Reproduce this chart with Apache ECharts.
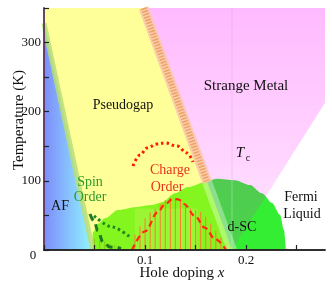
<!DOCTYPE html>
<html><head><meta charset="utf-8">
<script src="https://cdn.jsdelivr.net/npm/echarts@6/dist/echarts.min.js"></script>
<style>html,body{margin:0;padding:0;background:#fff}#c{width:332px;height:285px}</style>
</head><body><div id="c"></div>
<script>
// ---- data (doping x, temperature K) ----
const afBoundary = [[0, 328], [0.0482, 0]];
const pseudogapLine = [[0.0986, 350], [0.186, 0]];
const pseudogapDomeCross = [0.1615, 98];
const fermiLiquidLine = [[0.278, 213], [0.186, 0]];
const criticalDoping = 0.186;
const scDome = [[0.0475,0],[0.0485,26],[0.0534,38],[0.0603,46],[0.0732,58],[0.0900,62],[0.1068,65],[0.1167,69],[0.1296,82],[0.1425,91],[0.1593,98],[0.1711,103],[0.1889,101],[0.2038,94],[0.2157,82],[0.2256,68],[0.2335,51],[0.2374,29],[0.2394,0]];
const chargeOnset = [[0.0880,121.5],[0.0950,137.4],[0.1019,147.5],[0.1118,153.3],[0.1197,154.8],[0.1316,150.4],[0.1415,140.3],[0.1474,127.3]];
const chargeDome = [[0.0871,0],[0.0999,27],[0.1128,55],[0.1197,66.5],[0.1276,74],[0.1336,73],[0.1385,66.5],[0.1494,49],[0.1593,32],[0.1692,16],[0.1801,0]];
const chargeHatch = [[0.090,22],[0.095,34],[0.100,46],[0.105,54],[0.110,60],[0.115,66],[0.120,72],[0.125,75],[0.130,75],[0.135,72],[0.140,64],[0.145,60],[0.150,58],[0.155,55],[0.160,48],[0.165,38],[0.170,28],[0.175,18],[0.180,8]];
const chargeBox = [[0.090,0],[0.152,60]];
const spinDotted = [[0.0495,49.2],[0.0673,33.3],[0.0851,18.8]];
const spinDashed = [[0.0455,52],[0.0495,42],[0.0534,27.5],[0.0584,11.6],[0.0653,4.3],[0.0762,2.2]];
const spinHatch = [[0.050,16],[0.055,14],[0.060,12],[0.065,9],[0.070,7]];
const xTickValues = [0.1, 0.2];
const xTickLabels = ['0.1', '0.2'];
const yTickValues = [100, 200, 300];
const yTickLabels = ['100', '200', '300'];

const SERIF = "'Liberation Serif','DejaVu Serif',serif";
const yellowPoly = [[0,350],[afBoundary[0][0],afBoundary[0][1]],afBoundary[1],pseudogapLine[1],pseudogapLine[0]];
const pinkPoly = [pseudogapLine[0],[0.278,350],fermiLiquidLine[0],fermiLiquidLine[1],pseudogapLine[1]];
const afPoly = [[0,0],afBoundary[0],afBoundary[1]];

function polySeries(points, fill, z) {
  return {type:'custom', z:z, silent:true, data:[[0,0]], clip:false,
    renderItem:(p, api)=>({type:'polygon', shape:{points:points.map(q=>api.coord(q))}, style:{fill:fill}})};
}
function vlines(data, stroke, w, z) {
  return {type:'custom', z:z, silent:true, data:data,
    renderItem:(p, api)=>{const a=api.coord([api.value(0),0]), b=api.coord([api.value(0),api.value(1)]);
      return {type:'line', shape:{x1:a[0],y1:a[1],x2:b[0],y2:b[1]}, style:{stroke:stroke,lineWidth:w}};}};
}
function lineS(data, color, width, type, z, smooth) {
  return {type:'line', data:data, z:z, silent:true, showSymbol:false, smooth:smooth||0, smoothMonotone:'x',
    lineStyle:{color:color, width:width, type:type, cap:'butt'}, animation:false};
}

const chart = echarts.init(document.getElementById('c'), null, {renderer:'canvas'});
const axisFmt = (vals, labs) => v => { for (let i=0;i<vals.length;i++) if (Math.abs(v-vals[i])<1e-6) return labs[i]; return ''; };

chart.setOption({
  animation:false,
  backgroundColor:'#fff',
  grid:{left:44, right:7, top:8, bottom:35, containLabel:false, outerBoundsMode:'none'},
  xAxis:[
    {type:'value', min:0, max:0.278, interval:0.05, position:'bottom', z:10,
     axisLine:{lineStyle:{color:'#222', width:1.5}}, axisTick:{inside:true, length:5, lineStyle:{color:'#222', width:1.2}},
     axisLabel:{formatter:axisFmt(xTickValues, xTickLabels), fontFamily:SERIF, fontSize:13, color:'#111', margin:4, showMaxLabel:false},
     splitLine:{show:false}},
    {type:'value', min:0, max:0.278, position:'top', z:10,
     axisLine:{show:true, lineStyle:{color:'#222', width:1.5}}, axisTick:{show:false}, axisLabel:{show:false}, splitLine:{show:false}}
  ],
  yAxis:[
    {type:'value', min:0, max:350, interval:50, position:'left', z:10,
     axisLine:{show:true, lineStyle:{color:'#222', width:1.5}}, axisTick:{show:true, inside:true, length:5, lineStyle:{color:'#222', width:1.2}},
     axisLabel:{formatter:axisFmt(yTickValues, yTickLabels), fontFamily:SERIF, fontSize:13, color:'#111', margin:3},
     splitLine:{show:false}},
    {type:'value', min:0, max:350, position:'right', z:10,
     axisLine:{show:true, lineStyle:{color:'#6e3f6e', width:1.5}}, axisTick:{show:false}, axisLabel:{show:false}, splitLine:{show:false}}
  ],
  series:[
    {type:'line', data:scDome, z:1, silent:true, showSymbol:false, smooth:0.3, smoothMonotone:'x',
     lineStyle:{width:0}, areaStyle:{color:'#33ee33', opacity:1}},
    polySeries([[chargeBox[0][0],chargeBox[0][1]],[chargeBox[1][0],chargeBox[0][1]],[chargeBox[1][0],chargeBox[1][1]],[chargeBox[0][0],chargeBox[1][1]]], 'rgba(255,255,255,0.18)', 1),
    vlines(spinHatch, 'rgba(70,110,20,0.6)', 1, 1),
    polySeries(yellowPoly, 'rgba(255,255,0,0.4)', 2),
    polySeries(pinkPoly, new echarts.graphic.LinearGradient(0,0,0,1,[{offset:0,color:'rgba(255,0,255,0.27)'},{offset:1,color:'rgba(255,0,255,0.10)'}]), 2),
    {type:'custom', z:3, silent:true, data:[[0,0]],
     renderItem:(p, api)=>{const a=api.coord([criticalDoping,0]), m=api.coord([criticalDoping,101]), b=api.coord([criticalDoping,350]);
       return {type:'group', children:[
         {type:'line', shape:{x1:m[0],y1:m[1],x2:b[0],y2:b[1]}, style:{stroke:'rgba(225,150,225,0.35)', lineWidth:1}},
         {type:'line', shape:{x1:a[0],y1:a[1],x2:m[0],y2:m[1]}, style:{stroke:'rgba(255,255,255,0.3)', lineWidth:1}}]};}},
    vlines(chargeHatch, '#ff7a30', 1, 3),
    polySeries(afPoly, new echarts.graphic.LinearGradient(0,0,1,0,[{offset:0,color:'#7d8cfb'},{offset:1,color:'#90f6ff'}]), 4),
    lineS(afBoundary, 'rgba(185,222,120,0.85)', 5, 'solid', 4),
    lineS([pseudogapLine[0], pseudogapDomeCross], 'rgba(250,200,175,0.9)', 10, 'solid', 4),
    lineS([pseudogapLine[0], pseudogapDomeCross], '#eda35e', 6, [1.5,1.5], 4),
    lineS([pseudogapDomeCross, pseudogapLine[1]], 'rgba(255,255,255,0.35)', 10, 'solid', 4),
    lineS(chargeDome, '#ff2a0a', 2.2, [6,4], 5, 0.35),
    lineS(chargeOnset, '#ff1a00', 3, [2.5,3], 5, 0.4),
    lineS(spinDotted, '#1e8a1e', 3, [2.5,3], 5, 0.3),
    lineS(spinDashed, '#1e7a1e', 3, [7,5], 5, 0.4)
  ],
  graphic:{elements:[
    {type:'text', x:123, y:105, z:100, style:{text:'Pseudogap', font:'14px '+SERIF, fill:'#111', align:'center', verticalAlign:'middle'}},
    {type:'text', x:246, y:86, z:100, style:{text:'Strange Metal', font:'15px '+SERIF, fill:'#111', align:'center', verticalAlign:'middle'}},
    {type:'text', x:60, y:206, z:100, style:{text:'AF', font:'14px '+SERIF, fill:'#111', align:'center', verticalAlign:'middle'}},
    {type:'text', x:90, y:182, z:100, style:{text:'Spin', font:'14px '+SERIF, fill:'#2a9a2a', align:'center', verticalAlign:'middle'}},
    {type:'text', x:90, y:197, z:100, style:{text:'Order', font:'14px '+SERIF, fill:'#2a9a2a', align:'center', verticalAlign:'middle'}},
    {type:'text', x:170, y:170, z:100, style:{text:'Charge', font:'14px '+SERIF, fill:'#e8321e', align:'center', verticalAlign:'middle'}},
    {type:'text', x:167, y:187, z:100, style:{text:'Order', font:'14px '+SERIF, fill:'#e8321e', align:'center', verticalAlign:'middle'}},
    {type:'text', x:240, y:153, z:100, style:{text:'T', font:'italic 15px '+SERIF, fill:'#111', align:'center', verticalAlign:'middle'}},
    {type:'text', x:248, y:158, z:100, style:{text:'c', font:'10px '+SERIF, fill:'#111', align:'center', verticalAlign:'middle'}},
    {type:'text', x:242, y:227, z:100, style:{text:'d-SC', font:'14px '+SERIF, fill:'#111', align:'center', verticalAlign:'middle'}},
    {type:'text', x:301, y:197, z:100, style:{text:'Fermi', font:'14px '+SERIF, fill:'#111', align:'center', verticalAlign:'middle'}},
    {type:'text', x:302, y:214, z:100, style:{text:'Liquid', font:'14px '+SERIF, fill:'#111', align:'center', verticalAlign:'middle'}},
    {type:'text', x:182, y:273, z:100, style:{text:'{a|Hole doping }{b|x}', font:'15px '+SERIF, fill:'#111', align:'center', verticalAlign:'middle',
      rich:{a:{fontFamily:SERIF, fontSize:15, fill:'#111'}, b:{fontFamily:SERIF, fontSize:15, fontStyle:'italic', fill:'#111'}}}},
    {type:'text', x:19, y:120, z:100, rotation:Math.PI/2, style:{text:'Temperature (K)', font:'15px '+SERIF, fill:'#111', align:'center', verticalAlign:'middle'}},
    {type:'text', x:33, y:256, z:100, style:{text:'0', font:'13px '+SERIF, fill:'#111', align:'center', verticalAlign:'middle'}}
  ]}
});
</script></body></html>
